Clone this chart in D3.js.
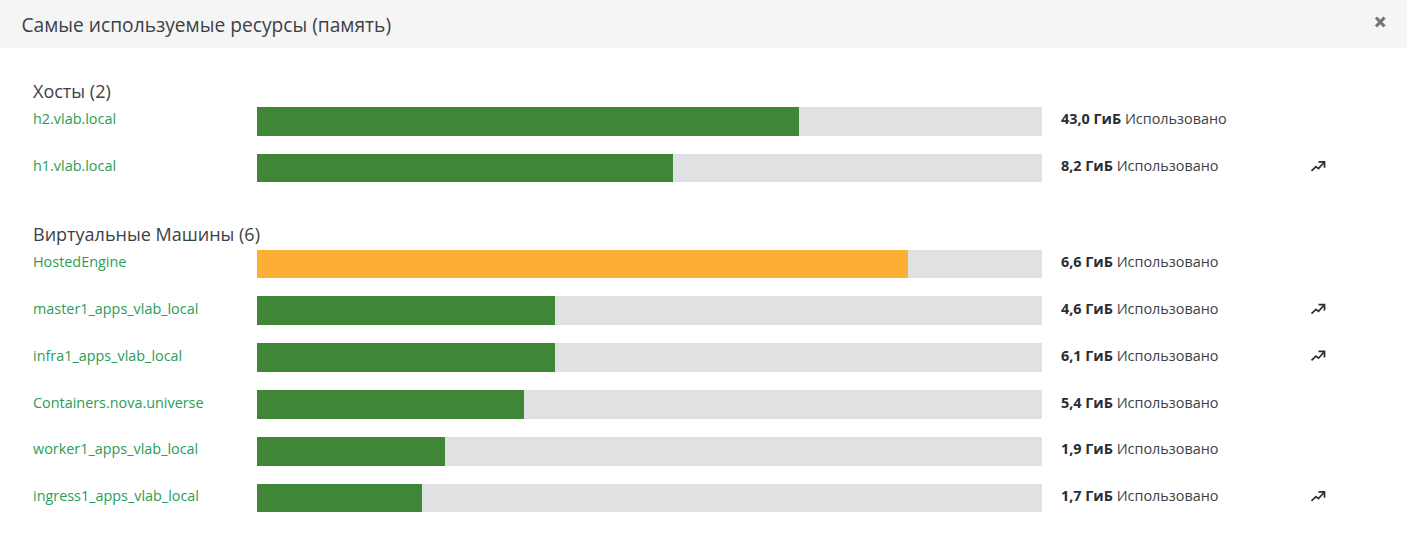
<!DOCTYPE html>
<html>
<head>
<meta charset="utf-8">
<script src="https://cdn.jsdelivr.net/npm/d3@7"></script>
<style>
  html, body { margin: 0; padding: 0; background: #fff; overflow: hidden; }
  text { font-family: "Open Sans", sans-serif; }
</style>
</head>
<body>
<svg id="chart" width="1407" height="559"></svg>
<script>
// Data
const chartTitle = 'Самые используемые ресурсы (память)';
const hostNames = ['h2.vlab.local', 'h1.vlab.local'];
const hostPercent = [69, 53];
const hostUsed = ['43,0 ГиБ', '8,2 ГиБ'];
const hostTrend = [false, true];
const hostWarn = [false, false];

const vmNames = ['HostedEngine', 'master1_apps_vlab_local', 'infra1_apps_vlab_local',
    'Containers.nova.universe', 'worker1_apps_vlab_local', 'ingress1_apps_vlab_local'];
const vmPercent = [82.9, 38, 38, 34, 24, 21];
const vmUsed = ['6,6 ГиБ', '4,6 ГиБ', '6,1 ГиБ', '5,4 ГиБ', '1,9 ГиБ', '1,7 ГиБ'];
const vmTrend = [false, true, true, false, false, true];
const vmWarn = [true, false, false, false, false, false];

const usedSuffix = 'Использовано';

const svg = d3.select('#chart');
const x = d3.scaleLinear().domain([0, 100]).range([257, 1042]);

// Header
svg.append('rect').attr('width', 1407).attr('height', 48).attr('fill', '#f5f5f5');
svg.append('text').attr('x', 21.5).attr('y', 32).attr('font-size', 19.2).attr('fill', '#3c4147').text(chartTitle);
svg.append('path')
    .attr('d', 'M1376,17.5L1384.5,26.5M1384.5,17.5L1376,26.5')
    .attr('stroke', '#72767b').attr('stroke-width', 3.2).attr('fill', 'none');

function drawGroup(title, names, percent, used, trend, warn, top) {
    const y = d3.scalePoint().domain(d3.range(names.length)).range([top, top + 46.8 * (names.length - 1)]);
    const g = svg.append('g');

    g.append('text').attr('x', 33).attr('y', top - 9).attr('font-size', 18).attr('fill', '#3c4147')
        .text(title + ' (' + names.length + ')');

    const rows = g.selectAll('g.row').data(names).join('g').attr('class', 'row')
        .attr('transform', (d, i) => 'translate(0,' + y(i) + ')');

    rows.append('text').attr('x', 33).attr('y', 17.6).attr('font-size', 14.4).attr('fill', '#2a9d58').text(d => d);
    rows.append('rect').attr('x', x(0)).attr('y', 0).attr('width', x(100) - x(0)).attr('height', 28.8)
        .attr('fill', '#e0e1e2').attr('shape-rendering', 'crispEdges');
    rows.append('rect').attr('x', x(0)).attr('y', 0)
        .attr('width', (d, i) => x(percent[i]) - x(0)).attr('height', 28.8)
        .attr('fill', (d, i) => warn[i] ? '#fdae35' : '#3f8636').attr('shape-rendering', 'crispEdges');

    const label = rows.append('text').attr('x', 1061).attr('y', 17.6).attr('font-size', 14.4).attr('fill', '#3c4147');
    label.append('tspan').attr('font-weight', 700).attr('fill', '#292e34').text((d, i) => used[i]);
    label.append('tspan').text(' ' + usedSuffix);

    // trend arrow
    rows.filter((d, i) => trend[i]).append('path')
        .attr('d', 'M1311.5,17.2L1316,13L1318.5,15L1323.5,9.4M1318.5,8.2L1324.5,8.2L1324.5,14.2')
        .attr('fill', 'none').attr('stroke', '#292e34').attr('stroke-width', 1.7);
}

drawGroup('Хосты', hostNames, hostPercent, hostUsed, hostTrend, hostWarn, 106.8);
drawGroup('Виртуальные Машины', vmNames, vmPercent, vmUsed, vmTrend, vmWarn, 249.6);
</script>
</body>
</html>
